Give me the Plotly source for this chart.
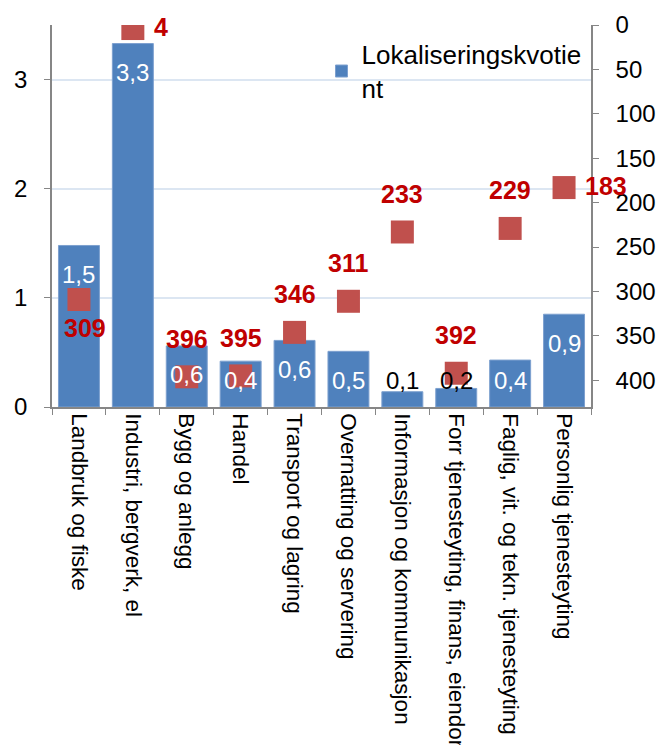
import plotly.graph_objects as go

# ---------------- Data ----------------
kategorier = [
    "Landbruk og fiske",
    "Industri, bergverk, el",
    "Bygg og anlegg",
    "Handel",
    "Transport og lagring",
    "Overnatting og servering",
    "Informasjon og kommunikasjon",
    "Forr tjenesteyting, finans, eiendom",
    "Faglig, vit. og tekn. tjenesteyting",
    "Personlig tjenesteyting",
]
kvotient = [1.48, 3.33, 0.56, 0.42, 0.61, 0.51, 0.14, 0.17, 0.43, 0.85]
kvotient_tekst = ["1,5", "3,3", "0,6", "0,4", "0,6", "0,5", "0,1", "0,2", "0,4", "0,9"]
rangering = [309, 4, 396, 395, 346, 311, 233, 392, 229, 183]
rang_pos = ["bottom", "right", "top", "top", "top", "top", "top", "top", "top", "right"]

y1_ticks = [0, 1, 2, 3]
y2_ticks = [0, 50, 100, 150, 200, 250, 300, 350, 400]

# ---------------- Style ----------------
FONT = "Liberation Sans, Arial, sans-serif"
BLUE = "#4F81BD"
RED_SQ = "#C0504D"
RED_TXT = "#C00000"
AXIS = "#868686"
GRID = "#DCE6F2"

W, H = 659, 745
M = dict(l=52, r=68, t=25, b=338)
Y1_MAX, Y2_MAX = 3.5, 430
PX = (H - M["t"] - M["b"]) / Y1_MAX  # piksler per enhet venstre akse

fig = go.Figure()

fig.add_trace(go.Bar(
    x=kategorier, y=kvotient, name="Lokaliseringskvotie<br>nt",
    marker=dict(color=BLUE, line=dict(color="#7DA0CF", width=1)),
))

fig.add_trace(go.Scatter(
    x=kategorier, y=rangering, yaxis="y2", mode="markers", showlegend=False,
    marker=dict(symbol="square", size=23, color=RED_SQ, line=dict(width=0)),
))

# ---------- etiketter på søylene ----------
annots = []
for k, v, t in zip(kategorier, kvotient, kvotient_tekst):
    h = v * PX
    annots.append(dict(
        x=k, y=v, xref="x", yref="y", text=t, showarrow=False,
        yanchor="middle", yshift=-min(29, h - 27),
        font=dict(family=FONT, size=24, color="white" if h - 27 > 0 else "black"),
    ))

# ---------- etiketter for rangering ----------
for k, r, p in zip(kategorier, rangering, rang_pos):
    a = dict(x=k, y=r, xref="x", yref="y2", text=f"<b>{r}</b>", showarrow=False,
             font=dict(family=FONT, size=25, color=RED_TXT))
    if p == "top":
        a.update(yanchor="middle", yshift=38)
    elif p == "bottom":
        a.update(yanchor="middle", yshift=-28, xshift=6)
    else:
        a.update(xanchor="left", xshift=19, yshift=2)
    annots.append(a)

fig.update_layout(
    width=W, height=H, margin=dict(M, autoexpand=False),
    paper_bgcolor="white", plot_bgcolor="white",
    font=dict(family=FONT, size=24, color="black"),
    bargap=0.24,
    annotations=annots,
    legend=dict(x=0.50, y=0.985, xanchor="left", yanchor="top",
                font=dict(family=FONT, size=26, color="black"),
                bgcolor="rgba(0,0,0,0)", itemwidth=30, tracegroupgap=0),
    xaxis=dict(
        type="category", range=[-0.5, len(kategorier) - 0.5], automargin=False,
        tickangle=90, tickson="boundaries", ticks="outside",
        ticklen=6, tickcolor=AXIS, showline=True, linecolor=AXIS, linewidth=1.5,
        tickfont=dict(family=FONT, size=22.5, color="black"), showgrid=False,
    ),
    yaxis=dict(
        range=[0, Y1_MAX], tickvals=y1_ticks, ticks="outside", ticklen=6,
        automargin=False, tickcolor=AXIS, showline=True, linecolor=AXIS, linewidth=1.5,
        showgrid=True, gridcolor=GRID, gridwidth=1.5, zeroline=False,
        tickfont=dict(family=FONT, size=24, color="black"), ticklabelstandoff=12,
    ),
    yaxis2=dict(
        range=[Y2_MAX, 0], tickvals=y2_ticks, overlaying="y", side="right",
        anchor="x", automargin=False, ticks="outside", ticklen=6, tickcolor=AXIS,
        showline=True, linecolor=AXIS, linewidth=1.5, showgrid=False, zeroline=False,
        tickfont=dict(family=FONT, size=24, color="black"), ticklabelstandoff=12,
    ),
)

# sidens standardmarg (8 px) og rullefelt flytter/klipper figuren – fjern dem
fig.write_html(
    "out.html", config={"displayModeBar": False},
    post_script=("document.body.style.margin='0';"
                 "document.body.style.overflow='hidden';"
                 "document.documentElement.style.overflow='hidden';"),
)
